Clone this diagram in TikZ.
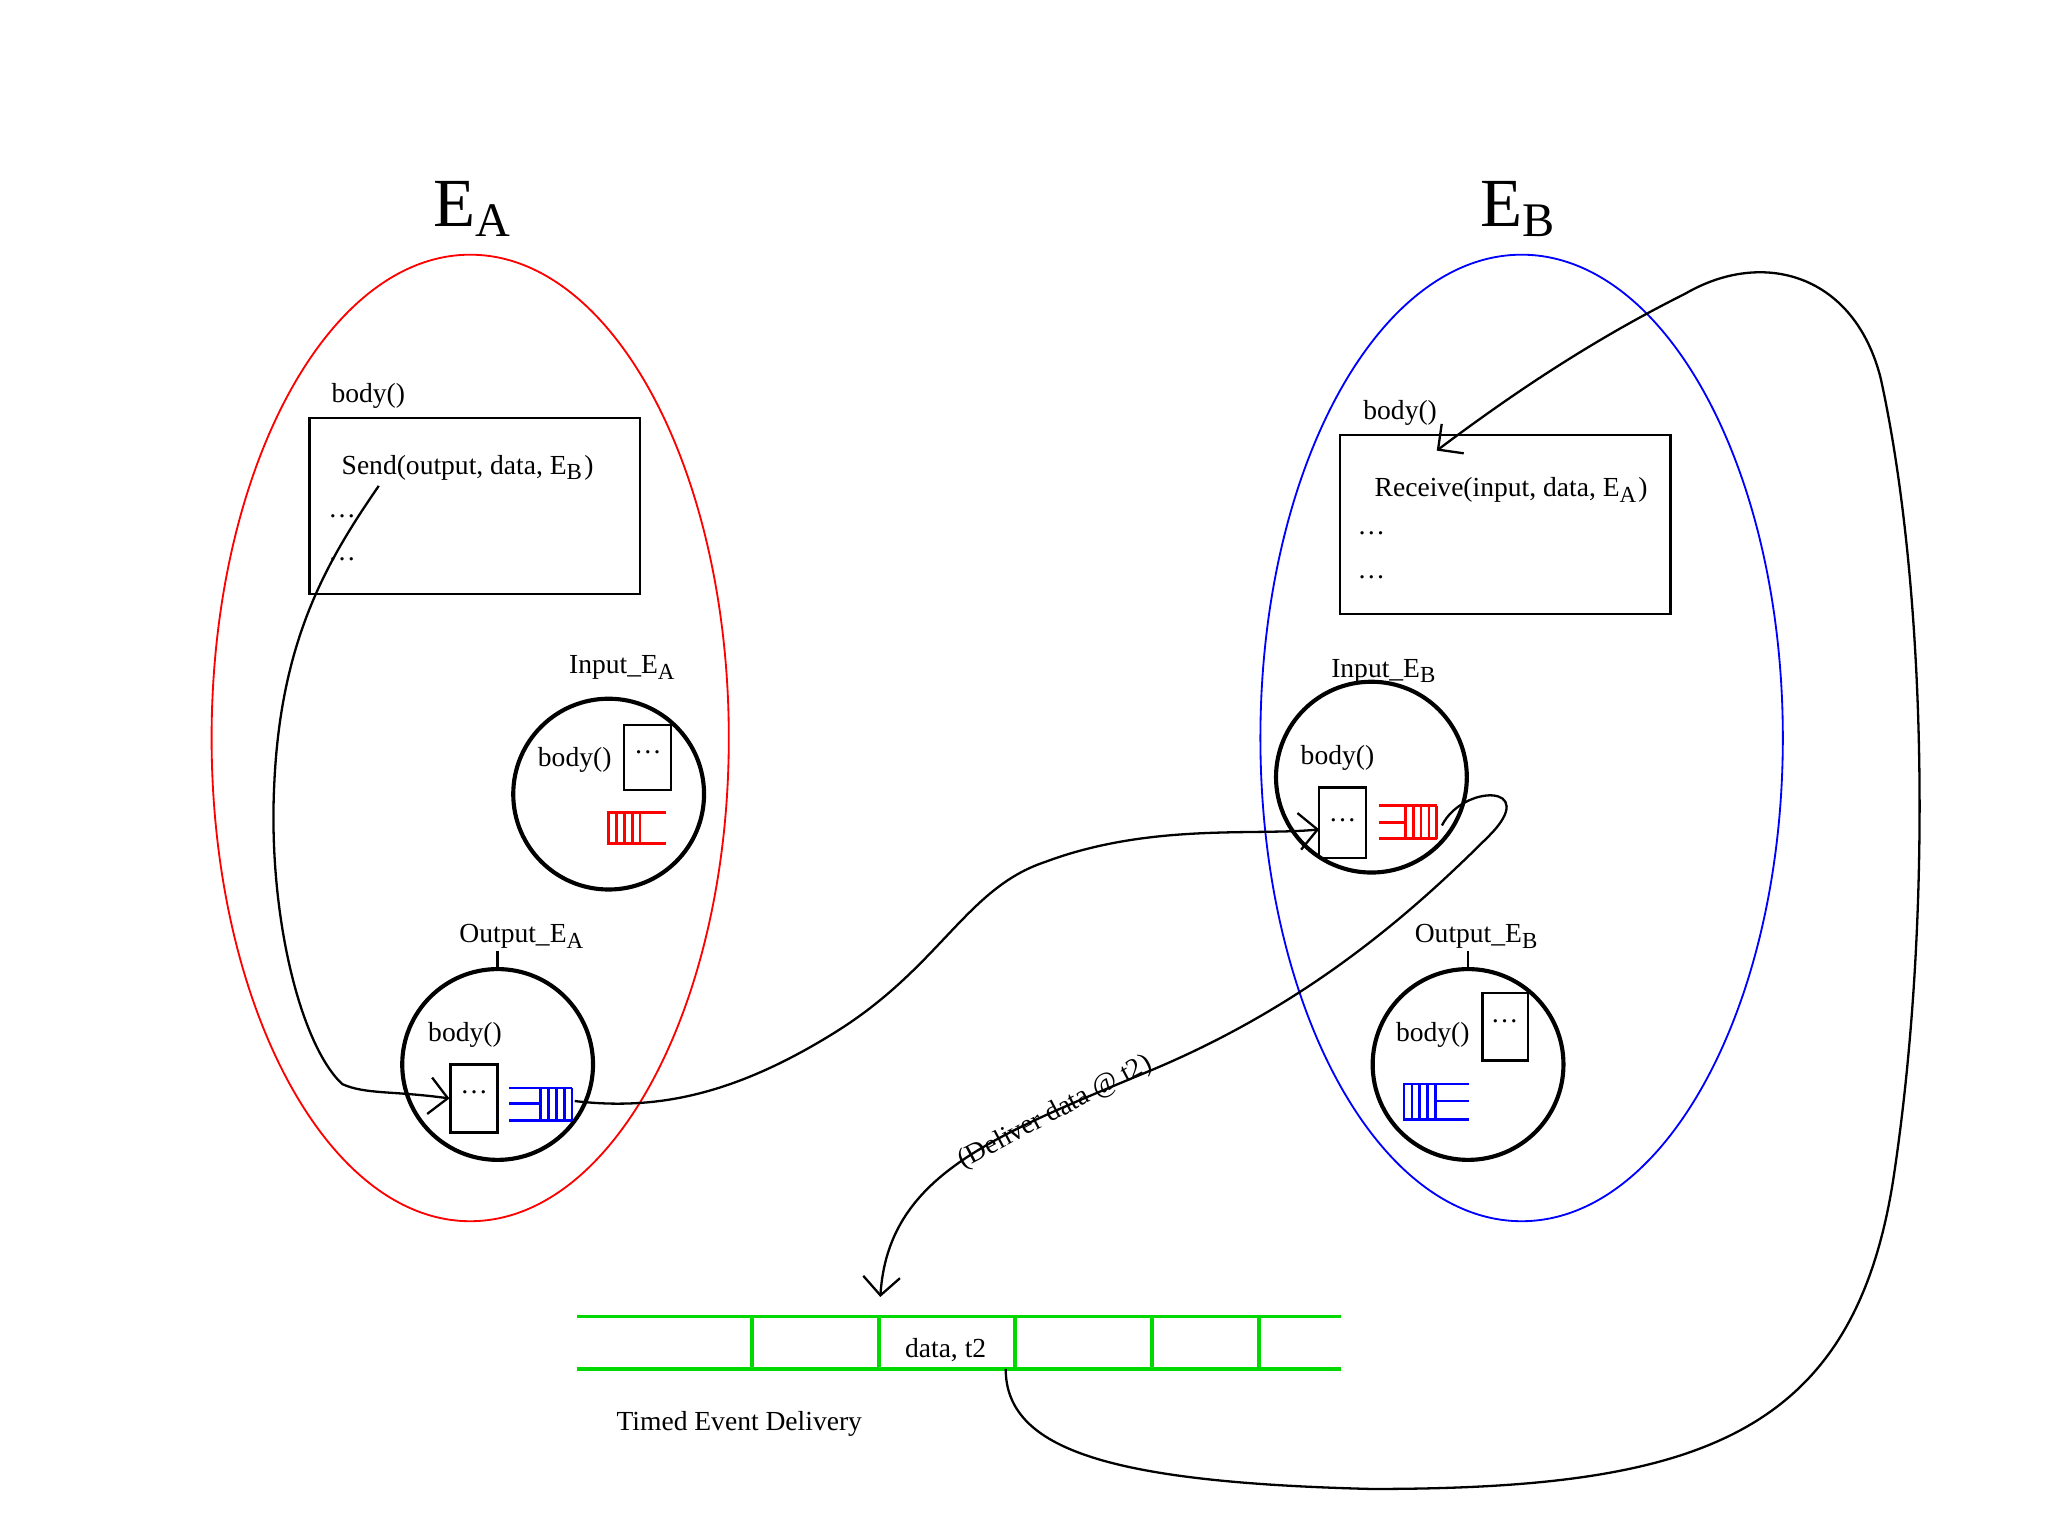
\documentclass[tikz,border=0pt]{standalone}
\usepackage{fontspec}
\setmainfont{Liberation Serif}
\usetikzlibrary{arrows.meta}
\begin{document}
\begin{tikzpicture}[x=0.01cm,y=-0.01cm,
  txt/.style={font=\fontsize{6}{7}\selectfont,inner sep=0},
  big/.style={font=\fontsize{15}{16}\selectfont,inner sep=0},
  circ/.style={draw,circle,line width=0.9pt,minimum size=1.46cm,inner sep=0},
  sbox/.style={draw,line width=0.5pt,inner sep=0},
  conn/.style={line width=0.5pt,-{Straight Barb[length=4pt]}},
  qr/.style={red,line width=0.6pt},
  qb/.style={blue,line width=0.6pt},
  gq/.style={green!85!black,line width=0.8pt}]
\useasboundingbox (0,0) rectangle (1568,1176);
% ellipses
\draw[red,line width=0.4pt] (360,565) ellipse [x radius=198,y radius=370];
\draw[blue,line width=0.4pt] (1165,565) ellipse [x radius=200,y radius=370];
\node[big] (la) at (362,160) {E\textsubscript{A}};
\node[big] (lb) at (1163,160) {E\textsubscript{B}};
% box A
\draw[sbox] (237,320) rectangle (490,455);
\node[txt] (bA) at (282,303) {body()};
\node[txt] (send) at (358,358) {Send(output, data, E\textsubscript{B})};
\node[txt] at (262,395) {\dots};
\node[txt] at (262,428) {\dots};
% Input EA
\node[circ] (iA) at (466,608) {};
\node[txt] at (477,511) {Input\_E\textsubscript{A}};
\node[txt] at (440,582) {body()};
\draw[sbox] (478,555) rectangle (514,605);
\node[txt] at (496,576) {\dots};
\draw[qr] (510,622) -- (466,622) -- (466,646) -- (510,646) (472,622)--(472,646) (478,622)--(478,646) (484,622)--(484,646) (490,622)--(490,646);
% Output EA
\node[circ] (oA) at (381,815) {};
\node[txt] at (400,717) {Output\_E\textsubscript{A}};
\draw[line width=0.6pt] (381,728) -- (381,742);
\node[txt] at (356,792) {body()};
\node[sbox,minimum width=0.36cm,minimum height=0.52cm] (obA) at (363,841) {};
\node[txt] at (363,836) {\dots};
\draw[qb] (390,833) -- (438,833) (390,858) -- (438,858) (414,833)--(414,858) (420,833)--(420,858) (426,833)--(426,858) (432,833)--(432,858) (438,833)--(438,858) (390,845)--(414,845);
\coordinate (qA) at (440,843);
% box B
\draw[sbox] (1026,333) rectangle (1279,470);
\node[txt] at (1072,316) {body()};
\node[txt] at (1157,375) {Receive(input, data, E\textsubscript{A})};
\node[txt] at (1050,408) {\dots};
\node[txt] at (1050,442) {\dots};
\coordinate (rB) at (1100,345);
% Input EB
\node[circ] (iB) at (1050,595) {};
\node[txt] at (1060,514) {Input\_E\textsubscript{B}};
\node[txt] at (1024,580) {body()};
\draw[sbox] (1010,603) rectangle (1046,657);
\node[txt] at (1028,628) {\dots};
\coordinate (ibB) at (1010,635);
\draw[qr] (1056,617) -- (1100,617) (1056,642) -- (1100,642) (1076,617)--(1076,642) (1082,617)--(1082,642) (1088,617)--(1088,642) (1094,617)--(1094,642) (1100,617)--(1100,642) (1056,630)--(1076,630);
\coordinate (qB) at (1104,632);
% Output EB
\node[circ] (oB) at (1124,815) {};
\node[txt] at (1131,717) {Output\_E\textsubscript{B}};
\draw[line width=0.6pt] (1124,728) -- (1124,742);
\node[txt] at (1097,792) {body()};
\draw[sbox] (1135,760) rectangle (1170,812);
\node[txt] at (1152,782) {\dots};
\draw[qb] (1125,830) -- (1075,830) -- (1075,857) -- (1125,857) (1081,830)--(1081,857) (1087,830)--(1087,857) (1093,830)--(1093,857) (1099,830)--(1099,857) (1099,843)--(1125,843);
% green queue
\draw[gq] (442,1008) -- (1027,1008) (442,1048) -- (1027,1048);
\foreach \x in {576,673,777,882,964} \draw[gq] (\x,1008) -- (\x,1048);
\node[txt] (dt) at (724,1034) {data, t2};
\node[txt] at (566,1090) {Timed Event Delivery};
\coordinate (gIn) at (674,993);
\coordinate (gOut) at (770,1048);
% connectors
\draw[conn] (290,372) .. controls (250,430) and (215,490) .. (210,600)
  .. controls (205,700) and (230,800) .. (262,830) .. controls (280,838) and (300,835) .. (obA.west);
\draw[conn] (qA) .. controls (500,850) and (560,840) .. (640,790)
  .. controls (720,740) and (740,680) .. (800,660) .. controls (880,630) and (960,640) .. (ibB);
\draw[conn] (qB) .. controls (1120,600) and (1180,600) .. (1140,640)
  .. controls (1080,700) and (1000,770) .. (880,820)
  .. controls (760,870) and (680,900) .. (gIn);
\node[txt,rotate=28] at (808,852) {(Deliver data @ t2)};
\draw[conn] (gOut) .. controls (770,1110) and (850,1135) .. (1050,1140)
  .. controls (1300,1140) and (1420,1100) .. (1450,900)
  .. controls (1480,700) and (1475,450) .. (1440,290)
  .. controls (1420,210) and (1350,190) .. (1290,225)
  .. controls (1220,260) and (1160,300) .. (rB);
\end{tikzpicture}
\end{document}
